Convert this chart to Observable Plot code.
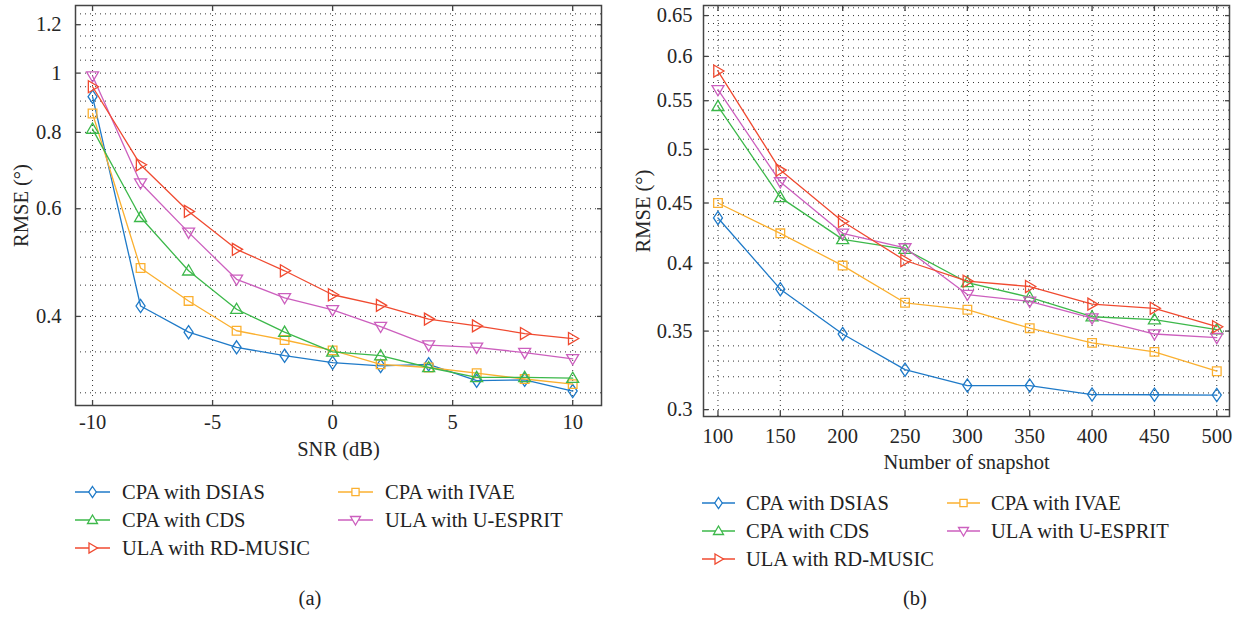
<!DOCTYPE html>
<html><head><meta charset="utf-8">
<script src="https://cdn.jsdelivr.net/npm/d3@7"></script>
<script src="https://cdn.jsdelivr.net/npm/@observablehq/plot@0.6"></script>
<style>
body{margin:0;background:#fff;}
#wrap{position:relative;width:1245px;height:618px;font-family:"Liberation Serif","Times New Roman",serif;color:#222;overflow:hidden;}
#wrap svg, #wrap svg text{font-family:"Liberation Serif","Times New Roman",serif !important;}
.panel{position:absolute;top:0;}
.leg{position:absolute;font-size:20.5px;white-space:nowrap;line-height:1;}
.cap{position:absolute;font-size:20.5px;transform:translate(-50%,-50%);}
</style></head><body><div id="wrap"></div>
<script>
// ---------- data ----------
const seriesNames = ["CPA with DSIAS", "CPA with IVAE", "CPA with CDS", "ULA with U-ESPRIT", "ULA with RD-MUSIC"];
const seriesColors = ["#1f7ac8", "#fbb030", "#3cb84a", "#cc5fbe", "#f04a30"];
const snr = [-10, -8, -6, -4, -2, 0, 2, 4, 6, 8, 10];
const dsiasA = [0.915, 0.416, 0.377, 0.356, 0.345, 0.336, 0.332, 0.334, 0.314, 0.315, 0.302];
const ivaeA  = [0.859, 0.480, 0.424, 0.379, 0.366, 0.352, 0.334, 0.330, 0.323, 0.316, 0.310];
const cdsA   = [0.810, 0.581, 0.475, 0.411, 0.377, 0.350, 0.345, 0.330, 0.318, 0.318, 0.317];
const uespA  = [0.989, 0.661, 0.549, 0.460, 0.429, 0.410, 0.385, 0.359, 0.356, 0.349, 0.341];
const rdmA   = [0.950, 0.708, 0.594, 0.515, 0.475, 0.434, 0.417, 0.396, 0.386, 0.375, 0.368];

const snapshots = [100, 150, 200, 250, 300, 350, 400, 450, 500];
const dsiasB = [0.437, 0.380, 0.348, 0.3245, 0.3145, 0.3145, 0.309, 0.3089, 0.3087];
const ivaeB  = [0.450, 0.424, 0.398, 0.370, 0.365, 0.352, 0.342, 0.336, 0.3235];
const cdsB   = [0.544, 0.455, 0.419, 0.411, 0.385, 0.374, 0.360, 0.358, 0.351];
const uespB  = [0.562, 0.469, 0.424, 0.412, 0.376, 0.371, 0.359, 0.348, 0.3455];
const rdmB   = [0.583, 0.480, 0.434, 0.402, 0.386, 0.382, 0.369, 0.366, 0.353];

const xTicksA = [-10, -5, 0, 5, 10];
const yTicksA = [0.4, 0.6, 0.8, 1, 1.2];
const xTicksB = [100, 150, 200, 250, 300, 350, 400, 450, 500];
const yTicksB = [0.3, 0.35, 0.4, 0.45, 0.5, 0.55, 0.6, 0.65];

// ---------- symbols ----------
const rad = s => Math.sqrt(s / Math.PI);
const symDiamond = {draw(c, s){const r = rad(s); c.moveTo(0,-r*1.1); c.lineTo(r*0.75,0); c.lineTo(0,r*1.1); c.lineTo(-r*0.75,0); c.closePath();}};
const symSquare = {draw(c, s){const r = rad(s)*0.72; c.moveTo(-r,-r); c.lineTo(r,-r); c.lineTo(r,r); c.lineTo(-r,r); c.closePath();}};
const symUp = {draw(c, s){const r = rad(s); c.moveTo(0,-r); c.lineTo(r,r*0.7); c.lineTo(-r,r*0.7); c.closePath();}};
const symDown = {draw(c, s){const r = rad(s); c.moveTo(-r,-r*0.7); c.lineTo(r,-r*0.7); c.lineTo(0,r); c.closePath();}};
const symRight = {draw(c, s){const r = rad(s); c.moveTo(-r*0.7,-r); c.lineTo(r,0); c.lineTo(-r*0.7,r); c.closePath();}};
const seriesSymbols = [symDiamond, symSquare, symUp, symDown, symRight];

const wrap = document.getElementById("wrap");

function panel(cfg) {
  const series = cfg.values.map((vals, k) => ({
    name: seriesNames[k], color: seriesColors[k], symbol: seriesSymbols[k],
    data: vals.map((v, i) => ({x: cfg.x[i], y: v}))
  }));
  const gridStyle = {stroke: "#000", strokeOpacity: 0.8, strokeDasharray: "1,4", strokeWidth: 1};
  const marks = [
    Plot.gridY(cfg.yGrid, gridStyle),
    Plot.gridX(cfg.xTicks, gridStyle),
  ];
  for (const s of series) {
    marks.push(Plot.line(s.data, {x: "x", y: "y", stroke: s.color, strokeWidth: 1.3}));
    marks.push(Plot.dot(s.data, {x: "x", y: "y", stroke: s.color, fill: "none", symbol: s.symbol, r: 6, strokeWidth: 1.3}));
  }
  marks.push(
    Plot.frame({stroke: "#444", strokeWidth: 1.5}),
    Plot.axisX({ticks: cfg.xTicks, anchor: "bottom", tickSize: -5, tickPadding: cfg.xPad, tickFormat: d => String(d),
      label: cfg.xLabel, labelAnchor: "center", labelArrow: "none", labelOffset: cfg.xLabelOffset, stroke: "#444", strokeWidth: 1.3}),
    Plot.axisX({ticks: cfg.xTicks, anchor: "top", tickSize: -5, tickFormat: () => "", label: null, stroke: "#444", strokeWidth: 1.3}),
    Plot.axisY({ticks: cfg.yTicks, anchor: "left", tickSize: -5, tickPadding: cfg.yPad, tickFormat: d => String(d),
      label: "RMSE (°)", labelAnchor: "center", labelArrow: "none", labelOffset: cfg.yLabelOffset, stroke: "#444", strokeWidth: 1.3}),
    Plot.axisY({ticks: cfg.yTicks, anchor: "right", tickSize: -5, tickFormat: () => "", label: null, stroke: "#444", strokeWidth: 1.3})
  );
  const chart = Plot.plot({
    width: cfg.width, height: cfg.height,
    marginLeft: cfg.m[0], marginRight: cfg.m[1], marginTop: cfg.m[2], marginBottom: cfg.m[3],
    x: {domain: cfg.xDomain},
    y: {type: "log", domain: cfg.yDomain},
    style: {fontSize: "20.5px", fontFamily: "'Liberation Serif', 'Times New Roman', serif", color: "#262626", background: "transparent"},
    marks
  });
  chart.classList.add("panel");
  chart.style.left = cfg.left + "px";
  wrap.appendChild(chart);

  // legend
  const order = [[0, 0], [2, 0], [4, 0], [1, 1], [3, 1]];
  order.forEach(([k, col], idx) => {
    const row = col === 0 ? idx : idx - 3;
    const div = document.createElement("div");
    div.className = "leg";
    const lx = cfg.leg.cols[col], ly = cfg.leg.rows[row];
    div.style.left = lx + "px";
    div.style.top = (ly - 10) + "px";
    const w = cfg.leg.lineW;
    const p = d3.path(); seriesSymbols[k].draw(p, Math.PI * 25);
    div.innerHTML = `<svg width="${w}" height="20" style="vertical-align:top;overflow:visible"><line x1="0" x2="${w}" y1="10" y2="10" stroke="${seriesColors[k]}" stroke-width="1.5"/><path d="${p}" transform="translate(${w/2},10)" fill="#fff" stroke="${seriesColors[k]}" stroke-width="1.3"/></svg><span style="position:absolute;left:${cfg.leg.textDx}px;top:0px">${seriesNames[k]}</span>`;
    wrap.appendChild(div);
  });
  const cap = document.createElement("div");
  cap.className = "cap"; cap.textContent = cfg.caption;
  cap.style.left = cfg.capX + "px"; cap.style.top = "598px";
  wrap.appendChild(cap);
}

const gridA = d3.range(6, 26).map(i => +(i * 0.05).toFixed(2));
const gridB = d3.range(30, 67).map(i => +(i * 0.01).toFixed(2));

panel({
  x: snr, values: [dsiasA, ivaeA, cdsA, uespA, rdmA],
  xDomain: [-10.71, 11.2], yDomain: [0.286, 1.29],
  xTicks: xTicksA, yTicks: yTicksA, yGrid: gridA,
  width: 622, height: 470, m: [75, 21, 5, 65], left: 0,
  xLabel: "SNR (dB)", xLabelOffset: 50, yLabelOffset: 62, xPad: 14, yPad: 19,
  leg: {cols: [75, 338], rows: [492, 520, 548], lineW: 35, textDx: 47},
  caption: "(a)", capX: 310
});
panel({
  x: snapshots, values: [dsiasB, ivaeB, cdsB, uespB, rdmB],
  xDomain: [88.4, 510.2], yDomain: [0.296, 0.663],
  xTicks: xTicksB, yTicks: yTicksB, yGrid: gridB,
  width: 623, height: 480, m: [81, 16, 5, 64], left: 622,
  xLabel: "Number of snapshot", xLabelOffset: 52, yLabelOffset: 68, xPad: 17, yPad: 16,
  leg: {cols: [702, 947], rows: [503, 531, 559], lineW: 33, textDx: 44},
  caption: "(b)", capX: 915
});
</script></body></html>
